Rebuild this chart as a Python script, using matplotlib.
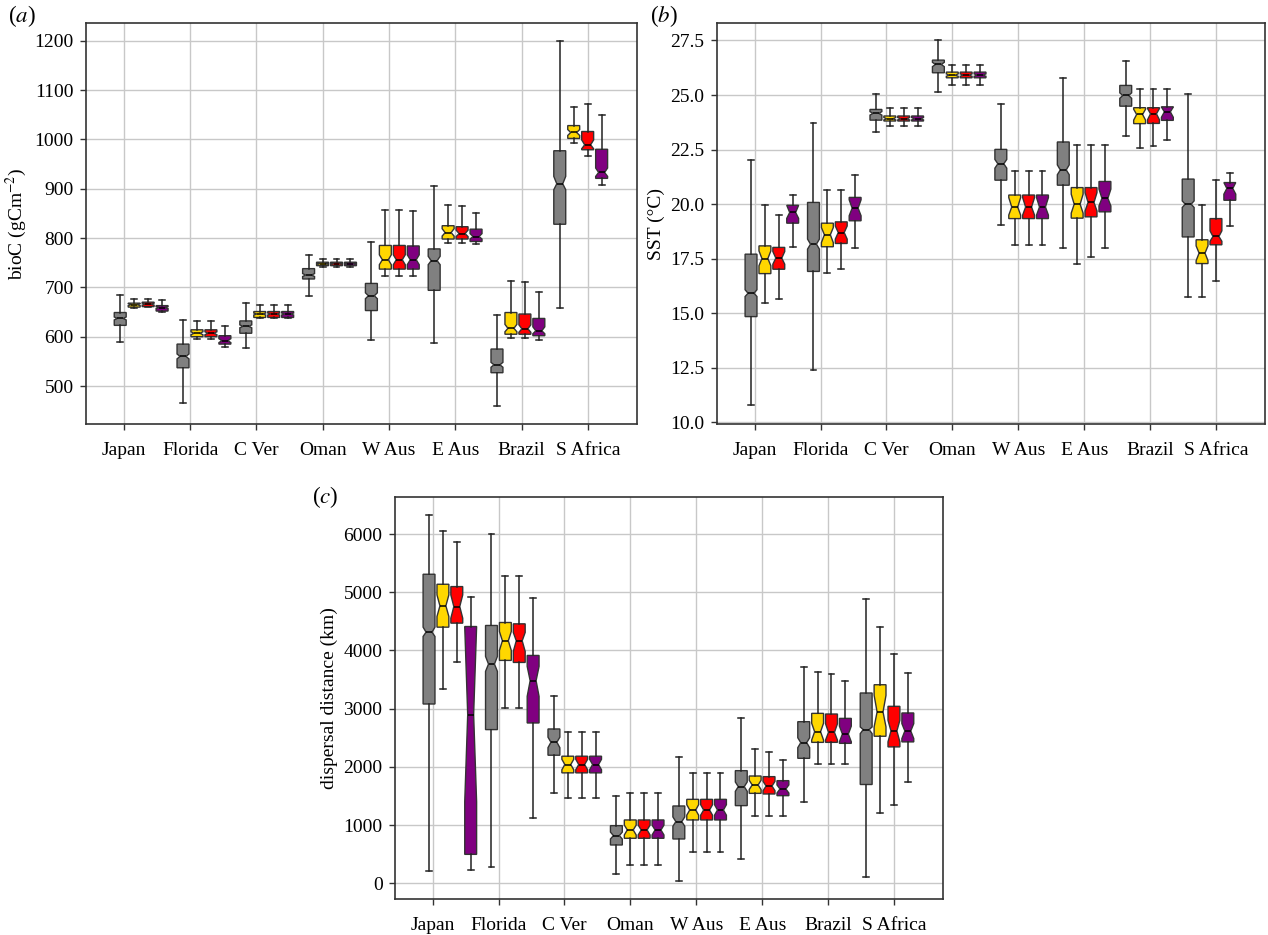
import matplotlib
matplotlib.use("Agg")
import matplotlib.pyplot as plt
import numpy as np

plt.rcParams['font.family'] = ['Liberation Serif', 'DejaVu Serif']
plt.rcParams['mathtext.fontset'] = 'stix'

regions = ["Japan", "Florida", "C Ver", "Oman", "W Aus", "E Aus", "Brazil", "S Africa"]
series_colors = ["#808080", "#FFD700", "#FF0000", "#800080"]

# ---- panel (a): bioC (gC m-2); rows = grey, gold, red, purple ----
bioc_whislo = [[590, 466, 578, 683, 594, 588, 460, 658],
               [659, 595, 637, 742, 724, 790, 597, 992],
               [660, 595, 637, 742, 724, 790, 597, 967],
               [651, 580, 637, 742, 724, 788, 594, 908]]
bioc_q1 = [[623, 537, 607, 717, 653, 694, 527, 828],
           [660, 600, 639, 744, 737, 798, 605, 1002],
           [661, 600, 639, 744, 737, 798, 605, 979],
           [652, 585, 639, 744, 737, 793, 602, 921]]
bioc_med = [[637, 560, 621, 725, 683, 754, 543, 910],
            [665, 607, 646, 748, 756, 811, 617, 1014],
            [666, 607, 646, 748, 756, 809, 616, 989],
            [659, 592, 646, 748, 756, 803, 612, 933]]
bioc_q3 = [[649, 585, 632, 738, 708, 778, 575, 977],
           [668, 614, 651, 751, 785, 825, 649, 1028],
           [670, 614, 651, 751, 785, 823, 646, 1016],
           [663, 602, 651, 751, 784, 818, 637, 980]]
bioc_whishi = [[685, 634, 669, 765, 791, 906, 644, 1199],
               [677, 631, 665, 758, 857, 867, 712, 1065],
               [677, 631, 665, 758, 857, 864, 710, 1072],
               [675, 621, 665, 758, 855, 850, 690, 1049]]
bioc_cilo = [[634, 555, 618, 722, 677, 746, 538, 898],
             [663, 604, 644, 747, 746, 804, 610, 1008],
             [664, 604, 644, 747, 746, 803, 609, 981],
             [657, 588, 644, 747, 746, 798, 606, 925]]
bioc_cihi = [[640, 565, 624, 728, 689, 763, 548, 925],
             [667, 610, 648, 749, 766, 819, 625, 1020],
             [668, 610, 648, 749, 766, 816, 624, 999],
             [661, 596, 648, 749, 766, 809, 620, 942]]

# ---- panel (b): SST (degC) ----
sst_whislo = [[10.79, 12.40, 23.32, 25.15, 19.05, 17.98, 23.12, 15.75],
              [15.47, 16.84, 23.58, 25.44, 18.13, 17.28, 22.56, 15.75],
              [15.65, 17.05, 23.58, 25.44, 18.13, 17.59, 22.66, 16.46],
              [18.05, 17.97, 23.58, 25.44, 18.13, 17.98, 22.94, 19.00]]
sst_q1 = [[14.85, 16.92, 23.85, 26.02, 21.10, 20.87, 24.49, 18.50],
          [16.82, 18.05, 23.81, 25.79, 19.34, 19.36, 23.69, 17.28],
          [17.02, 18.20, 23.81, 25.79, 19.34, 19.42, 23.70, 18.14],
          [19.13, 19.24, 23.81, 25.79, 19.34, 19.65, 23.84, 20.18]]
sst_med = [[15.92, 18.17, 24.16, 26.40, 21.85, 21.57, 24.98, 20.00],
           [17.51, 18.60, 23.91, 25.91, 19.87, 20.00, 24.11, 17.76],
           [17.53, 18.70, 23.91, 25.91, 19.87, 20.08, 24.14, 18.52],
           [19.62, 19.82, 23.91, 25.91, 19.87, 20.27, 24.23, 20.72]]
sst_q3 = [[17.71, 20.08, 24.34, 26.60, 22.51, 22.85, 25.44, 21.15],
          [18.09, 19.13, 24.04, 26.05, 20.42, 20.76, 24.42, 18.37],
          [18.02, 19.19, 24.04, 26.05, 20.42, 20.76, 24.42, 19.34],
          [19.95, 20.31, 24.04, 26.05, 20.42, 21.04, 24.46, 20.99]]
sst_whishi = [[22.02, 23.73, 25.03, 27.50, 24.57, 25.76, 26.58, 25.03],
              [19.97, 20.64, 24.39, 26.37, 21.52, 22.71, 25.26, 19.95],
              [19.51, 20.64, 24.39, 26.37, 21.52, 22.71, 25.26, 21.11],
              [20.41, 21.33, 24.39, 26.37, 21.52, 22.71, 25.26, 21.42]]
sst_cilo = [[15.77, 17.94, 24.08, 26.30, 21.65, 21.35, 24.85, 19.85],
            [17.18, 18.24, 23.86, 25.86, 19.50, 19.59, 23.85, 17.41],
            [17.25, 18.40, 23.86, 25.86, 19.50, 19.69, 23.87, 18.30],
            [19.35, 19.47, 23.86, 25.86, 19.50, 19.92, 23.98, 20.46]]
sst_cihi = [[16.08, 18.40, 24.24, 26.50, 22.05, 21.80, 25.10, 20.15],
            [17.86, 18.93, 23.97, 25.97, 20.30, 20.46, 24.35, 18.09],
            [17.83, 19.00, 23.97, 25.97, 20.30, 20.53, 24.38, 18.78],
            [19.95, 20.20, 23.97, 25.97, 20.30, 20.69, 24.45, 20.99]]

# ---- panel (c): dispersal distance (km) ----
disp_whislo = [[211, 286, 1543, 160, 46, 418, 1391, 114],
               [3343, 3011, 1469, 315, 544, 1156, 2049, 1211],
               [3800, 3011, 1469, 315, 544, 1156, 2049, 1343],
               [229, 1114, 1469, 315, 544, 1156, 2049, 1743]]
disp_q1 = [[3080, 2640, 2200, 658, 761, 1334, 2147, 1697],
           [4400, 3829, 1897, 773, 1088, 1545, 2421, 2526],
           [4469, 3794, 1897, 773, 1088, 1534, 2421, 2343],
           [497, 2754, 1897, 773, 1088, 1505, 2404, 2429]]
disp_med = [[4314, 3766, 2423, 819, 1059, 1660, 2416, 2640],
            [4766, 4166, 2040, 916, 1259, 1689, 2604, 2943],
            [4754, 4166, 2040, 916, 1259, 1671, 2593, 2617],
            [2897, 3480, 2040, 916, 1259, 1620, 2564, 2617]]
disp_q3 = [[5309, 4429, 2651, 990, 1328, 1935, 2776, 3269],
           [5137, 4480, 2183, 1088, 1442, 1843, 2919, 3411],
           [5097, 4457, 2183, 1088, 1442, 1832, 2908, 3040],
           [4411, 3914, 2183, 1088, 1442, 1763, 2833, 2926]]
disp_whishi = [[6326, 6000, 3211, 1505, 2175, 2845, 3721, 4886],
               [6057, 5286, 2600, 1557, 1900, 2301, 3635, 4400],
               [5857, 5286, 2600, 1557, 1900, 2261, 3595, 3931],
               [4926, 4897, 2600, 1557, 1900, 2118, 3480, 3617]]
disp_cilo = [[4240, 3640, 2330, 760, 980, 1580, 2330, 2571],
             [4583, 4000, 1950, 830, 1170, 1610, 2460, 2686],
             [4554, 3983, 1950, 830, 1170, 1590, 2460, 2429],
             [1400, 3211, 1950, 830, 1170, 1550, 2430, 2486]]
disp_cihi = [[4400, 3897, 2510, 880, 1140, 1740, 2500, 2686],
             [4954, 4326, 2130, 1000, 1350, 1770, 2750, 3229],
             [4954, 4309, 2130, 1000, 1350, 1750, 2740, 2800],
             [4405, 3726, 2130, 1000, 1350, 1690, 2700, 2743]]

bioc_ticks = [500, 600, 700, 800, 900, 1000, 1100, 1200]
sst_ticks = [10.0, 12.5, 15.0, 17.5, 20.0, 22.5, 25.0, 27.5]
disp_ticks = [0, 1000, 2000, 3000, 4000, 5000, 6000]

FS = 14
EDGE = "#333333"


def draw_panel(ax, whislo, q1, med, q3, whishi, cilo, cihi, ylim, yticks, ylabel, fmt=None):
    ax.set_axisbelow(True)
    ax.grid(True, color="#c8c8c8", linewidth=1.0)
    n = len(regions)
    for k in range(4):
        stats = []
        for g in range(n):
            stats.append(dict(med=med[k][g], q1=q1[k][g], q3=q3[k][g],
                              whislo=whislo[k][g], whishi=whishi[k][g],
                              cilo=cilo[k][g], cihi=cihi[k][g], fliers=[]))
        pos = [-0.054 + 0.947 * g + 0.2105 * k for g in range(n)]
        ax.bxp(stats, positions=pos, widths=0.18, patch_artist=True,
               shownotches=True, showfliers=False, manage_ticks=False,
               boxprops=dict(facecolor=series_colors[k], edgecolor=EDGE, linewidth=1.0),
               medianprops=dict(color="black", linewidth=1.1),
               whiskerprops=dict(color="#222222", linewidth=1.1),
               capprops=dict(color="#222222", linewidth=1.1))
    ax.set_xlim(-0.57, 7.74)
    ax.set_ylim(*ylim)
    ax.set_xticks(range(n))
    ax.set_xticklabels(regions, fontsize=FS)
    ax.set_yticks(yticks)
    if fmt:
        ax.set_yticklabels([fmt % v for v in yticks], fontsize=FS)
    else:
        ax.set_yticklabels([str(v) for v in yticks], fontsize=FS)
    ax.tick_params(axis="both", direction="out", length=4, width=1.0, color="#333333", pad=5)
    ax.tick_params(axis="x", pad=9)
    for s in ax.spines.values():
        s.set_color("#333333")
        s.set_linewidth(1.2)
    ax.set_ylabel(ylabel, fontsize=FS)


fig = plt.figure(figsize=(12.68, 9.35), dpi=100)
ax_a = fig.add_axes([86 / 1268, 1 - 424 / 935, 551 / 1268, 401 / 935])
ax_b = fig.add_axes([717 / 1268, 1 - 424 / 935, 548 / 1268, 401 / 935])
ax_c = fig.add_axes([395 / 1268, 1 - 899 / 935, 548 / 1268, 402 / 935])

draw_panel(ax_a, bioc_whislo, bioc_q1, bioc_med, bioc_q3, bioc_whishi, bioc_cilo, bioc_cihi,
           (423, 1236), bioc_ticks, r"bioC (gCm$^{-2}$)")
draw_panel(ax_b, sst_whislo, sst_q1, sst_med, sst_q3, sst_whishi, sst_cilo, sst_cihi,
           (9.93, 28.3), sst_ticks, "SST (°C)", fmt="%.1f")
draw_panel(ax_c, disp_whislo, disp_q1, disp_med, disp_q3, disp_whishi, disp_cilo, disp_cihi,
           (-270, 6636), disp_ticks, "dispersal distance (km)")

fig.text(8 / 1268, 1 - 16 / 935, r"($\mathit{a}$)", fontsize=16.5, va="center", ha="left")
fig.text(650 / 1268, 1 - 16 / 935, r"($\mathit{b}$)", fontsize=16.5, va="center", ha="left")
fig.text(312 / 1268, 1 - 497 / 935, r"($\mathit{c}$)", fontsize=16.5, va="center", ha="left")

fig.savefig("out.png", dpi=100)
